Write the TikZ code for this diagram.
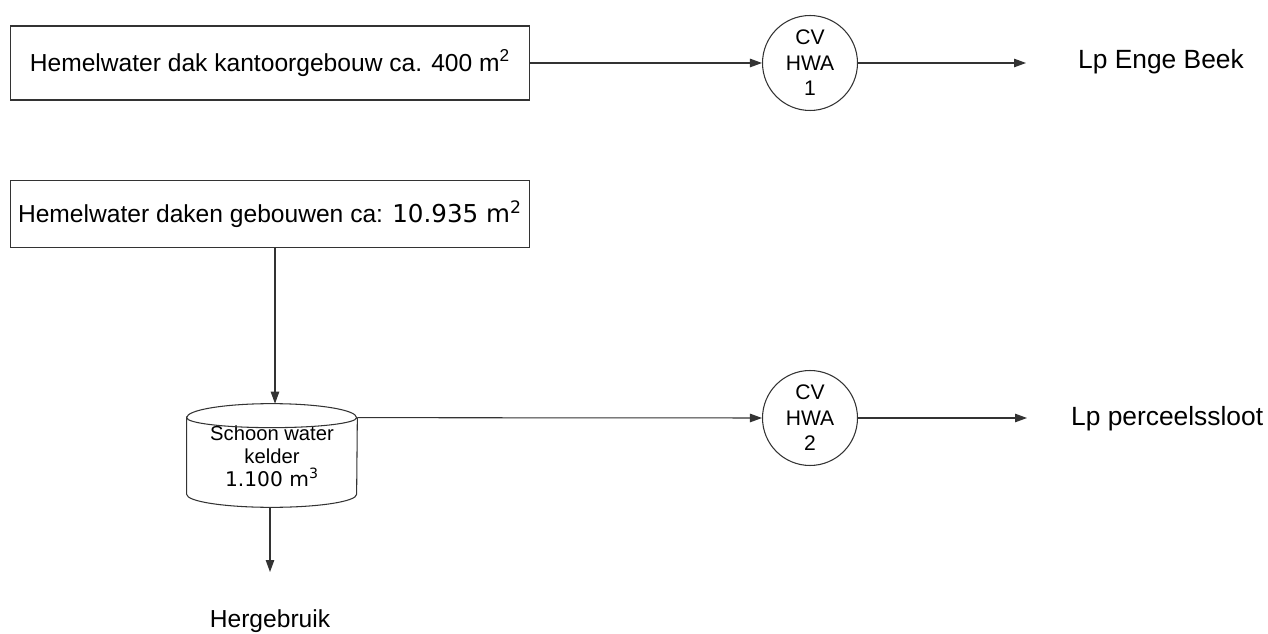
\documentclass[tikz,border=0pt]{standalone}
\usepackage{fontspec}
\setmainfont{Liberation Sans}
\newfontfamily\numfont{DejaVu Sans}
\usepackage{tikz}
\usetikzlibrary{arrows.meta,calc}

\begin{document}
\begin{tikzpicture}[x=0.02cm, y=-0.02cm,
        flow/.style={draw=black!80, line width=0.6pt},
        arr/.style={flow, -{Triangle[length=2.4mm,width=1.7mm]}},
        sourcebox/.style={draw=black!80, line width=0.6pt, minimum width=10.4cm, inner sep=0pt, font=\fontsize{14}{16}\selectfont},
        hwa/.style={circle, draw=black!80, line width=0.6pt, minimum size=1.9cm, inner sep=0pt, align=center, font=\fontsize{12}{14.5}\selectfont},
        outlet/.style={anchor=west, font=\fontsize{15}{17}\selectfont}]
        \useasboundingbox (0,0) rectangle (1268,634);

        % Sources
        \node[sourcebox, minimum height=1.48cm] (roof1) at (270,63) {Hemelwater dak kantoorgebouw ca. 400 m\textsuperscript{2}};
        \node[sourcebox, minimum height=1.34cm] (roof2) at (270,214) {Hemelwater daken gebouwen ca: {\numfont 10.935 m\textsuperscript{2}}};

        % Clean water basin
        \node[minimum width=3.4cm, minimum height=1.52cm, inner sep=0pt, align=center, font=\fontsize{11.5}{13}\selectfont] (tank) at (272,456) {Schoon water\\kelder\\{\numfont 1.100 m\textsuperscript{3}}};
        \draw[flow] (tank.north west) arc[start angle=180, end angle=0, x radius=1.7cm, y radius=0.28cm]
            arc[start angle=0, end angle=-180, x radius=1.7cm, y radius=0.2cm] -- (tank.south west)
            arc[start angle=180, end angle=360, x radius=1.7cm, y radius=0.26cm] -- (tank.north east);
        \coordinate (tanktop) at ($(tank.north)+(3,-14)$);
        \coordinate (tankbot) at ($(tank.south)+(-2,13)$);

        % Control wells
        \node[hwa] (hwa1) at (810,63) {CV\\HWA\\1};
        \node[hwa] (hwa2) at (810,418) {CV\\HWA\\2};

        % Outlets
        \node[outlet] (enge) at (1072,62) {Lp Enge Beek};
        \node[outlet] (sloot) at (1065,419) {Lp perceelssloot};
        \node[font=\fontsize{14}{16}\selectfont] (reuse) at (270,621) {Hergebruik};
        \coordinate (out1) at (1026,63);
        \coordinate (out2) at (1027,418);
        \coordinate (reusein) at (270,572);

        % Connections
        \draw[arr] (roof1.east) -- (hwa1.west);
        \draw[arr] (hwa1.east) -- (out1);
        \draw[arr] (roof2.south -| tanktop) -- (tanktop);
        \draw[arr] (tank.north east) -- (hwa2.west);
        \draw[arr] (hwa2.east) -- (out2);
        \draw[arr] (tankbot) -- (reusein);
    \end{tikzpicture}
\end{document}
